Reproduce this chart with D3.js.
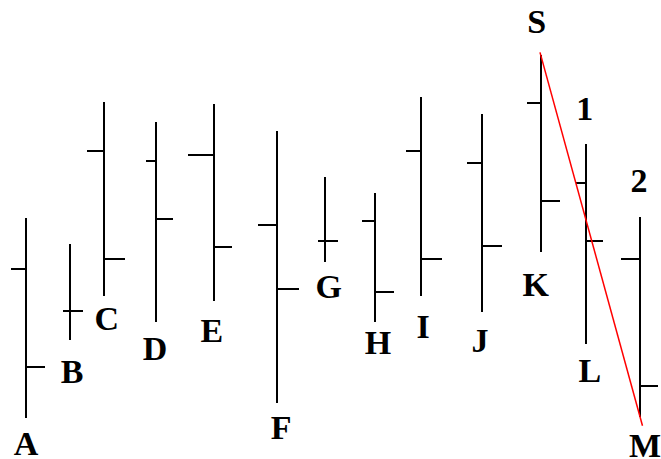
<!DOCTYPE html>
<html>
<head>
<meta charset="utf-8">
<script src="https://cdn.jsdelivr.net/npm/d3@7"></script>
<style>
  html, body { margin: 0; padding: 0; background: #fff; }
  svg { display: block; }
</style>
</head>
<body>
<svg id="chart" width="661" height="459"></svg>
<script>
// bars (price units)
const names  = ['A','B','C','D','E','F','G','H','I','J','K','L','M'];
const times  = [0, 0.86, 1.52, 2.54, 3.67, 4.91, 5.84, 6.82, 7.72, 8.91, 10.06, 10.94, 12];
const highs  = [52.5, 46.8, 77.8, 73.4, 77.3, 71.5, 61.4, 58.0, 78.9, 75.2, 88.0, 68.6, 52.7];
const lows   = [ 8.9, 25.9, 35.5, 29.8, 34.4, 12.2, 42.9, 29.8, 35.5, 32.0, 45.1, 25.1,  9.2];
const opens  = [41.4, 32.2, 67.1, 64.9, 66.2, 51.0, 47.5, 51.9, 67.1, 64.5, 77.6, 60.1, 43.6];
const closes = [20.0, 32.2, 43.6, 52.3, 46.2, 37.0, 47.5, 36.4, 43.6, 46.4, 56.2, 47.5, 15.9];

// extra marks: swing high S, waves 1 and 2
const swingFrom = 'K';   // high of K
const swingTo   = 'M';   // low of M
const waveLabels = [
  { bar: 'K', text: 'S' },
  { bar: 'L', text: '1' },
  { bar: 'M', text: '2' }
];

// drawing style (tick lengths in px, label offsets in px)
const openLen  = [15, 7, 17, 10, 26, 19, 7, 13, 15, 15, 14, 10, 19];
const closeLen = [19, 13, 21, 17, 18, 22, 13, 19, 21, 20, 19, 17, 18];
const labelOff = [[0,37],[2,43],[3,34],[-1,38],[-2,41],[4,36],[4,36],[3,32],[2,42],[-2,40],[-5,44],[4,38],[5,40]];
const waveOff  = [[-4,-22],[-1,-24],[-1,-25]];

const data = names.map((n, i) => ({
  name: n, t: times[i], high: highs[i], low: lows[i], open: opens[i], close: closes[i],
  ol: openLen[i], cl: closeLen[i], off: labelOff[i]
}));
const byName = Object.fromEntries(data.map(d => [d.name, d]));

const svg = d3.select('#chart');
const x = d3.scaleLinear().domain([0, 12]).range([26, 640]);
const y = d3.scaleLinear().domain([0, 100]).range([459, 0]);

const g = svg.append('g')
  .attr('stroke', '#000')
  .attr('stroke-width', 2)
  .attr('shape-rendering', 'crispEdges');

// high-low bars
g.selectAll('line.hl')
  .data(data).enter().append('line')
  .attr('class', 'hl')
  .attr('x1', d => Math.round(x(d.t))).attr('x2', d => Math.round(x(d.t)))
  .attr('y1', d => y(d.high)).attr('y2', d => y(d.low));

// open ticks (left)
g.selectAll('line.op')
  .data(data).enter().append('line')
  .attr('class', 'op')
  .attr('x1', d => Math.round(x(d.t)) - d.ol).attr('x2', d => Math.round(x(d.t)))
  .attr('y1', d => y(d.open)).attr('y2', d => y(d.open));

// close ticks (right)
g.selectAll('line.cl')
  .data(data).enter().append('line')
  .attr('class', 'cl')
  .attr('x1', d => Math.round(x(d.t))).attr('x2', d => Math.round(x(d.t)) + d.cl)
  .attr('y1', d => y(d.close)).attr('y2', d => y(d.close));

// swing line from S to M, run slightly past both ends
const a = byName[swingFrom], b = byName[swingTo];
const p0 = [x(a.t), y(a.high)], p1 = [x(b.t), y(b.low)];
const ext = 0.025;
svg.append('line')
  .attr('x1', p0[0] - (p1[0] - p0[0]) * ext * 0.3)
  .attr('y1', p0[1] - (p1[1] - p0[1]) * ext * 0.3)
  .attr('x2', p1[0] + (p1[0] - p0[0]) * ext)
  .attr('y2', p1[1] + (p1[1] - p0[1]) * ext)
  .attr('stroke', '#ff0000')
  .attr('stroke-width', 1.5);

const font = '"Liberation Serif", "Times New Roman", serif';

// bar labels under each bar
svg.selectAll('text.bar')
  .data(data).enter().append('text')
  .attr('class', 'bar')
  .attr('x', d => x(d.t) + d.off[0])
  .attr('y', d => y(d.low) + d.off[1])
  .attr('text-anchor', 'middle')
  .attr('font-family', font).attr('font-weight', 'bold').attr('font-size', 34)
  .text(d => d.name);

// S / 1 / 2 above the highs
svg.selectAll('text.wave')
  .data(waveLabels).enter().append('text')
  .attr('class', 'wave')
  .attr('x', (d, i) => x(byName[d.bar].t) + waveOff[i][0])
  .attr('y', (d, i) => y(byName[d.bar].high) + waveOff[i][1])
  .attr('text-anchor', 'middle')
  .attr('font-family', font).attr('font-weight', 'bold').attr('font-size', 34)
  .text(d => d.text);
</script>
</body>
</html>
